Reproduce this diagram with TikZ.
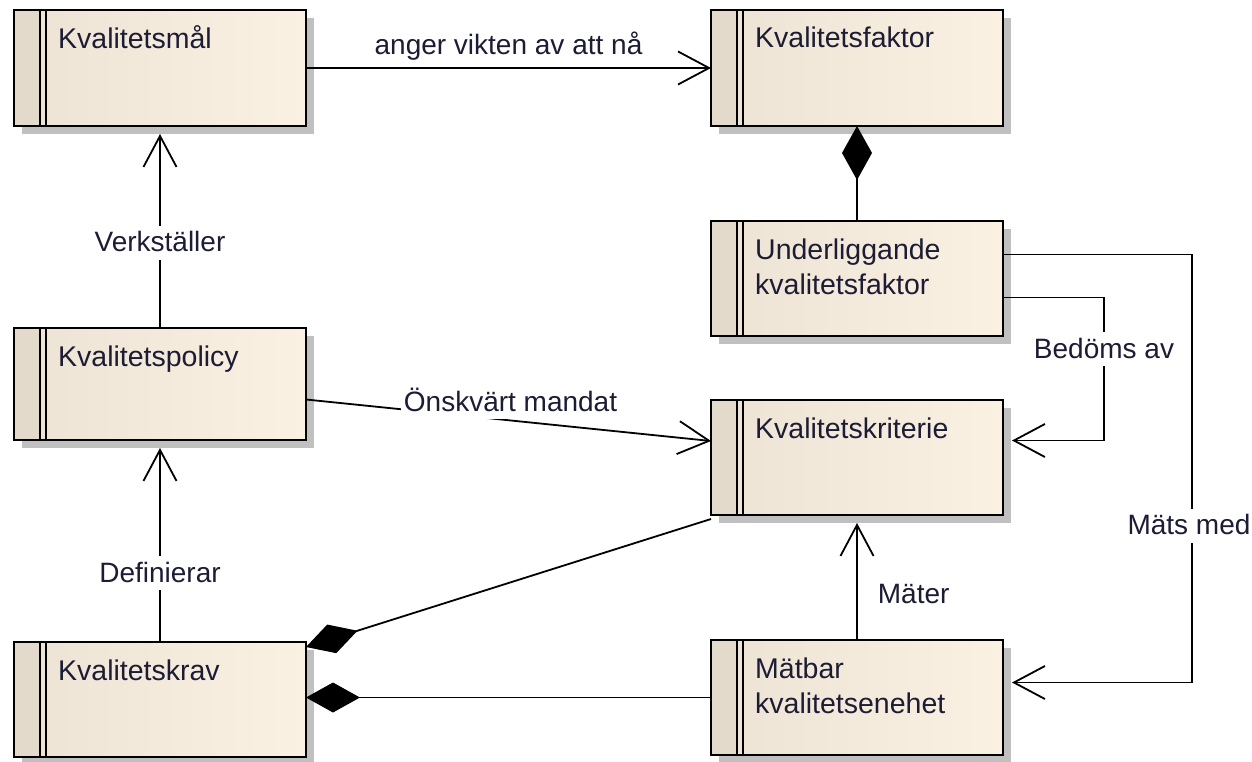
\documentclass[tikz,border=0pt]{standalone}
\usepackage{fontspec}
\setmainfont{Liberation Sans}
\usetikzlibrary{arrows.meta,calc,shadows}
\definecolor{stripfill}{RGB}{227,218,203}
\definecolor{bodyL}{RGB}{236,227,212}
\definecolor{bodyR}{RGB}{251,241,227}
\definecolor{shadegray}{RGB}{192,192,192}
\definecolor{ink}{RGB}{28,28,52}
\begin{document}
\begin{tikzpicture}[x=1pt,y=-1pt,
  cls/.style={rectangle, draw=black, line width=1.9pt, minimum width=292pt,
    inner sep=0pt, outer sep=0pt, anchor=north west,
    drop shadow={shadow xshift=8pt, shadow yshift=-8pt, fill=shadegray, opacity=1},
    path picture={
      \fill[left color=bodyL, right color=bodyR]
        (path picture bounding box.south west) rectangle (path picture bounding box.north east);
      \fill[stripfill]
        (path picture bounding box.south west) rectangle ([xshift=26pt]path picture bounding box.north west);
      \draw[line width=1.7pt]
        ([xshift=26pt]path picture bounding box.south west) -- ([xshift=26pt]path picture bounding box.north west);
      \draw[line width=1.7pt]
        ([xshift=32pt]path picture bounding box.south west) -- ([xshift=32pt]path picture bounding box.north west);
    }},
  txt/.style={anchor=base west, inner sep=0pt, text=ink, font=\fontsize{28.5}{35}\selectfont},
  lbl/.style={text=ink, fill=white, inner sep=3pt, text height=23pt, text depth=5pt,
    font=\fontsize{28}{35}\selectfont},
  assoc/.style={draw=black, line width=1.8pt, -{Straight Barb[length=31pt,width=33pt]}},
  comp/.style={draw=black, line width=1.8pt, -{Diamond[length=54pt,width=30pt]}}
]
\fill[white] (0,0) rectangle (1252,762);
\useasboundingbox (0,0) rectangle (1252,762);

% classes
\node[cls, minimum height=116pt] (kmal)  at (14,10)  {};
\node[cls, minimum height=116pt] (kfak)  at (711,10) {};
\node[cls, minimum height=115pt] (und)   at (711,221) {};
\node[cls, minimum height=112pt] (kpol)  at (14,328) {};
\node[cls, minimum height=115pt] (kkrit) at (711,400) {};
\node[cls, minimum height=115pt] (kkrav) at (14,642) {};
\node[cls, minimum height=115pt] (mat)   at (711,640) {};

% class names
\node[txt] (tkmal)  at ($(kmal.north west)+(44,39)$)  {Kvalitetsmål};
\node[txt] (tkfak)  at ($(kfak.north west)+(44,38)$)  {Kvalitetsfaktor};
\node[txt] (tund)   at ($(und.north west)+(44,38)$)
  {\begin{tabular}[t]{@{}l@{}}Underliggande\\kvalitetsfaktor\end{tabular}};
\node[txt] (tkpol)  at ($(kpol.north west)+(44,38)$)  {Kvalitetspolicy};
\node[txt] (tkkrit) at ($(kkrit.north west)+(44,38)$) {Kvalitetskriterie};
\node[txt] (tkkrav) at ($(kkrav.north west)+(44,38)$) {Kvalitetskrav};
\node[txt] (tmat)   at ($(mat.north west)+(44,38)$)
  {\begin{tabular}[t]{@{}l@{}}Mätbar\\kvalitetsenehet\end{tabular}};

% associations
\draw[assoc] (kmal.east) -- node[lbl, anchor=base, yshift=13pt] {anger vikten av att nå} (kfak.west);
\draw[assoc] (kpol.north) -- node[lbl, pos=0.44] {Verkställer} ([yshift=-8pt]kmal.south);
\draw[assoc] (kkrav.north) -- node[lbl, pos=0.354] {Definierar} ([yshift=-8pt]kpol.south);
\draw[assoc] ([yshift=-15.5pt]kpol.east) --
  node[lbl, anchor=base, xshift=2pt, yshift=9pt] {Önskvärt mandat} ([yshift=16.5pt]kkrit.west);
\draw[assoc] (mat.north) --
  node[lbl, pos=0.31, anchor=base west, xshift=17pt] {Mäter} ([yshift=-8pt]kkrit.south);
\draw[assoc] ([yshift=-19pt]und.east) -- ++(101,0) |-
  node[lbl, pos=0.212, anchor=base] {Bedöms av} ([xshift=9pt,yshift=17pt]kkrit.east);
\draw[assoc] ([yshift=24pt]und.east) -- ++(189,0) |-
  node[lbl, pos=0.3275, anchor=base, xshift=-3pt] {Mäts med} ([xshift=9pt,yshift=15pt]mat.east);

% compositions
\draw[comp] (und.north) -- (kfak.south);
\draw[comp] ([yshift=-4pt]kkrit.south west) -- ([yshift=-5pt]kkrav.north east);
\draw[comp] (mat.west) -- (mat.west -| kkrav.east);
\end{tikzpicture}
\end{document}
